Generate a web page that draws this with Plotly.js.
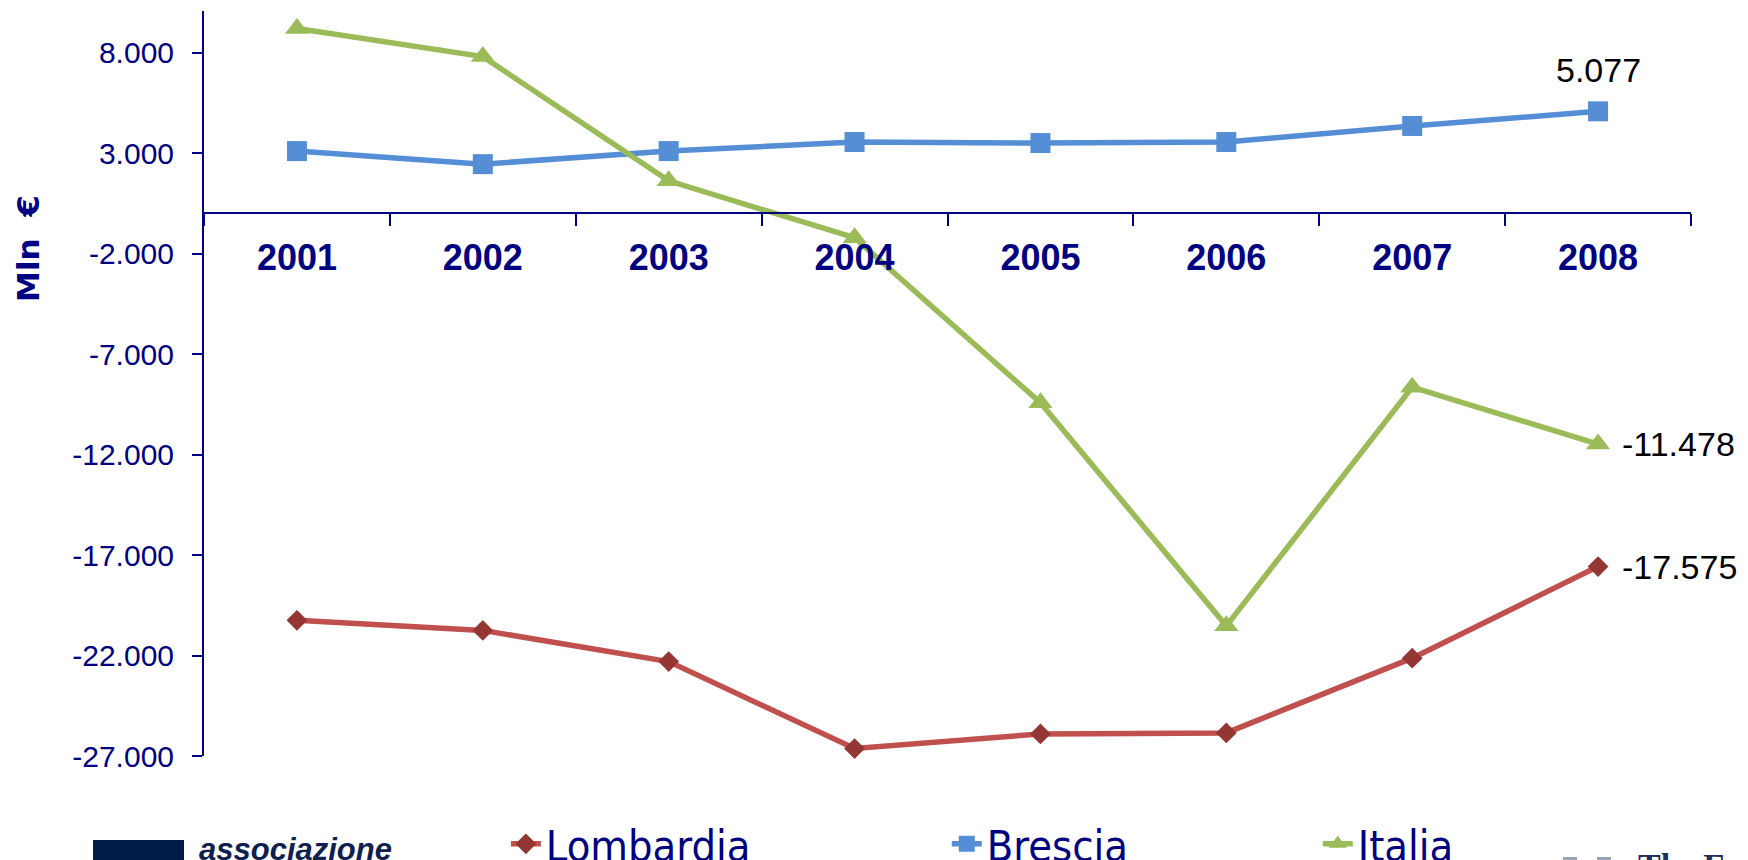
<!DOCTYPE html>
<html>
<head>
<meta charset="utf-8">
<script src="https://cdn.plot.ly/plotly-3.0.1.min.js"></script>
<style>
  html, body { margin: 0; padding: 0; background: #ffffff; overflow: hidden; }
  #chart { width: 1748px; height: 860px; }
</style>
</head>
<body>
<div id="chart"></div>
<script>
// ---- data ----
const years = ['2001', '2002', '2003', '2004', '2005', '2006', '2007', '2008'];
const lombardia = [-20250, -20750, -22300, -26630, -25900, -25850, -22130, -17575];
const brescia = [3100, 2450, 3100, 3550, 3500, 3550, 4350, 5077];
const italia = [9200, 7800, 1620, -1212, -9425, -20524, -8650, -11478];
const seriesNames = ['Lombardia', 'Brescia', 'Italia'];
const yTickVals = [8000, 3000, -2000, -7000, -12000, -17000, -22000, -27000];
const yTickText = ['8.000', '3.000', '-2.000', '-7.000', '-12.000', '-17.000', '-22.000', '-27.000'];
const yAxisTitle = 'Mln  \u20AC';

// ---- helpers ----
function fmt(v) {
  const s = Math.abs(v).toString().replace(/\B(?=(\d{3})+(?!\d))/g, '.');
  return (v < 0 ? '-' : '') + s;
}

const yMin = -27000, yMax = 10070;
const navy = '#000080';
const last = years.length - 1;   // category index of the last year

const labelFont = { family: 'Liberation Sans, Arial, sans-serif', size: 34, color: '#000000' };
const legendFont = { family: 'Liberation Sans Narrow, DejaVu Sans Condensed, Arial Narrow, sans-serif', size: 43, color: navy };

const traces = [
  {
    x: years, y: lombardia, name: seriesNames[0], type: 'scatter', mode: 'lines+markers',
    line: { color: '#C0504D', width: 5.5 },
    marker: { symbol: 'diamond', size: 16, color: '#943634' },
    cliponaxis: false, legend: 'legend'
  },
  {
    x: years, y: brescia, name: seriesNames[1], type: 'scatter', mode: 'lines+markers',
    line: { color: '#558ED5', width: 5.5 },
    marker: { symbol: 'square', size: 20, color: '#558ED5' },
    cliponaxis: false, legend: 'legend2'
  },
  {
    x: years, y: italia, name: seriesNames[2], type: 'scatter', mode: 'lines+markers',
    line: { color: '#9BBB59', width: 5.5 },
    marker: { symbol: 'triangle-up', size: 21, color: '#9BBB59' },
    cliponaxis: false, legend: 'legend3'
  }
];

const legendBase = {
  orientation: 'h', xanchor: 'left', yanchor: 'middle', y: -0.118,
  font: legendFont, bgcolor: 'rgba(0,0,0,0)', itemsizing: 'trace', itemwidth: 30
};

// value labels on the last point (x given as category index of years[last])
const dataLabels = [
  { x: last, y: brescia[last], text: fmt(brescia[last]), xanchor: 'center', yanchor: 'middle', xshift: 0, yshift: 41 },
  { x: last, y: italia[last], text: fmt(italia[last]), xanchor: 'left', yanchor: 'middle', xshift: 22, yshift: 0 },
  { x: last, y: lombardia[last], text: fmt(lombardia[last]), xanchor: 'left', yanchor: 'middle', xshift: 22, yshift: 0 }
].map(a => Object.assign(a, { xref: 'x', yref: 'y', showarrow: false, font: Object.assign({}, labelFont) }));

const layout = {
  width: 1748, height: 860,
  paper_bgcolor: '#ffffff', plot_bgcolor: '#ffffff',
  margin: { l: 204, r: 57, t: 11, b: 104, autoexpand: false },
  showlegend: true,
  legend: Object.assign({}, legendBase, { x: 0.203 }),
  legend2: Object.assign({}, legendBase, { x: 0.4995 }),
  legend3: Object.assign({}, legendBase, { x: 0.749 }),
  xaxis: {
    type: 'category', range: [-0.5, 7.5],
    anchor: 'free', position: (0 - yMin) / (yMax - yMin),
    showline: true, linecolor: navy, linewidth: 2,
    ticks: 'outside', tickson: 'boundaries', ticklen: 12, tickwidth: 2, tickcolor: navy,
    tickfont: { family: 'Liberation Sans, Arial, sans-serif', size: 36, color: navy, weight: 'bold' },
    ticklabelstandoff: 12,
    showgrid: false, zeroline: false, fixedrange: true
  },
  yaxis: {
    range: [yMin, yMax],
    showline: true, linecolor: navy, linewidth: 2,
    ticks: 'outside', ticklen: 10, tickwidth: 2, tickcolor: navy,
    tickvals: yTickVals, ticktext: yTickText,
    tickfont: { family: 'Liberation Sans, Arial, sans-serif', size: 30, color: navy },
    ticklabelstandoff: 12,
    showgrid: false, zeroline: false, fixedrange: true
  },
  annotations: dataLabels.concat([
    {
      text: '<b>' + yAxisTitle + '</b>', textangle: -90,
      xref: 'paper', yref: 'y', x: -0.1184, y: -1723,
      xanchor: 'center', yanchor: 'middle', showarrow: false,
      font: { family: 'DejaVu Sans, Verdana, sans-serif', size: 31, color: navy }
    },
    {
      text: '<b><i>associazione</i></b>',
      xref: 'paper', yref: 'paper', x: (197 - 204) / 1487, y: -(829 - 755) / 745,
      xanchor: 'left', yanchor: 'top', showarrow: false,
      font: { family: 'Liberation Sans, Arial, sans-serif', size: 31, color: '#0F1F4F' }
    },
    {
      text: '<b>The E</b>',
      xref: 'paper', yref: 'paper', x: (1636 - 204) / 1487, y: -(844 - 755) / 745,
      xanchor: 'left', yanchor: 'top', showarrow: false,
      font: { family: 'Liberation Serif, Times New Roman, serif', size: 34, color: '#1F2F5F' }
    }
  ]),
  shapes: [
    {
      type: 'rect', xref: 'paper', yref: 'paper',
      x0: (93 - 204) / 1487, x1: (184 - 204) / 1487,
      y0: -(839 - 755) / 745, y1: -(875 - 755) / 745,
      fillcolor: '#001A4A', line: { width: 0 }
    },
    {
      type: 'rect', xref: 'paper', yref: 'paper',
      x0: (1563 - 204) / 1487, x1: (1577 - 204) / 1487,
      y0: -(856 - 755) / 745, y1: -(870 - 755) / 745,
      fillcolor: '#9AA4B4', line: { width: 0 }
    },
    {
      type: 'rect', xref: 'paper', yref: 'paper',
      x0: (1597 - 204) / 1487, x1: (1611 - 204) / 1487,
      y0: -(856 - 755) / 745, y1: -(870 - 755) / 745,
      fillcolor: '#9AA4B4', line: { width: 0 }
    }
  ]
};

Plotly.newPlot('chart', traces, layout, { displayModeBar: false, staticPlot: true });
</script>
</body>
</html>
